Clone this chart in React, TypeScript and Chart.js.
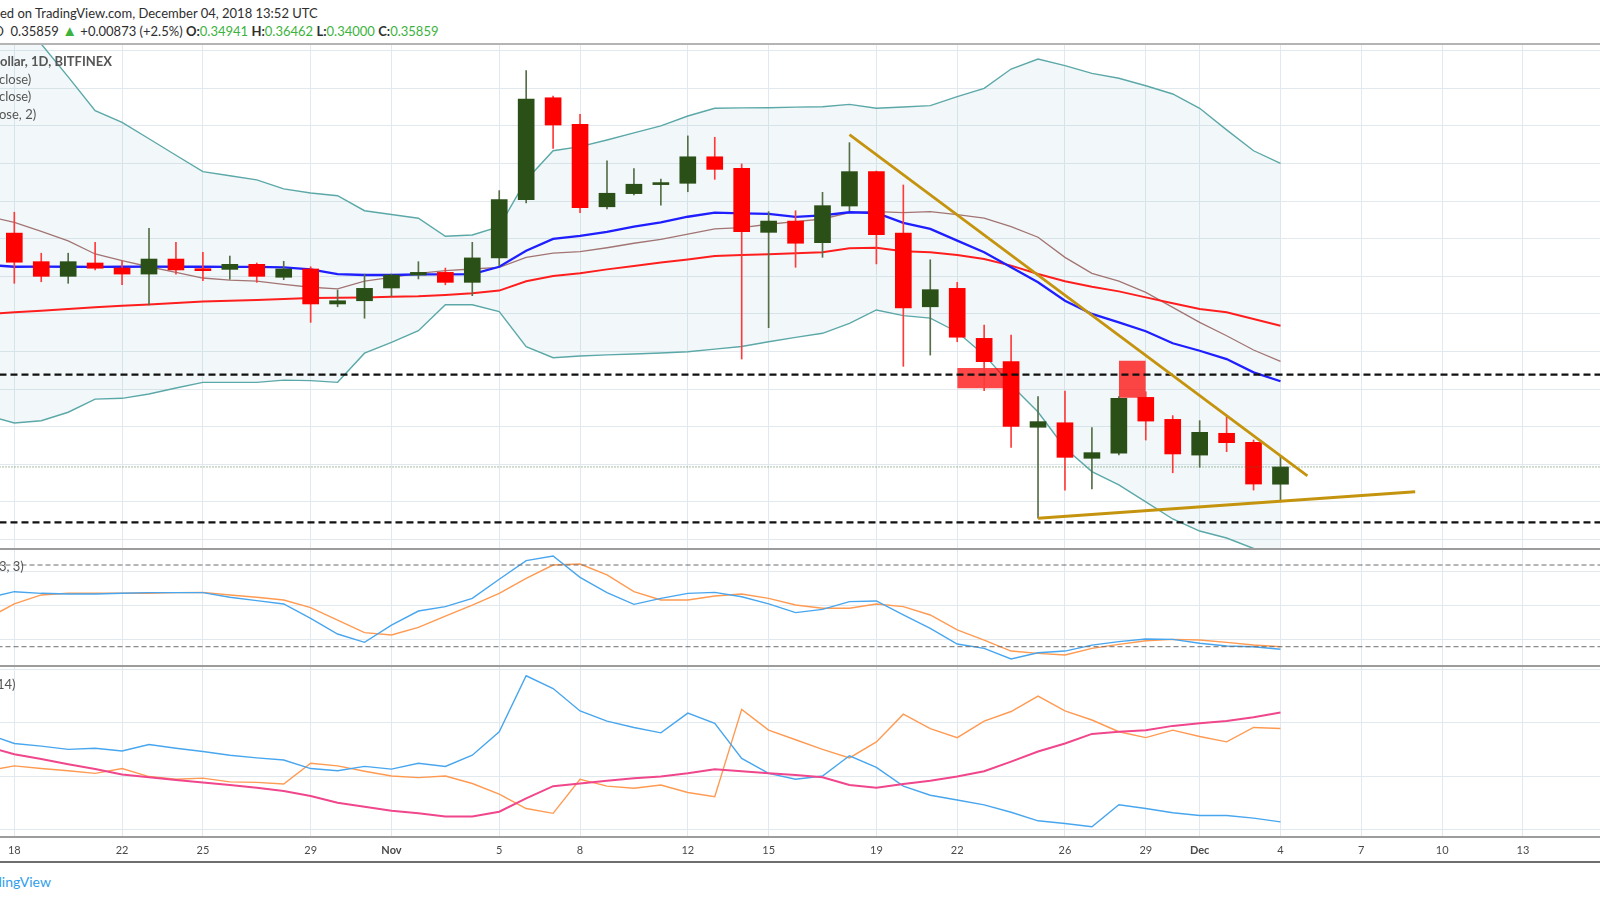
import React, { useEffect, useRef } from 'react';
import { Chart, registerables } from 'chart.js';

Chart.register(...registerables);

// ---------- x axis (day index: 0 = Oct 18, 2018) ----------
const tickDays = [0, 4, 7, 11, 14, 18, 21, 25, 28, 32, 35, 39, 42, 44, 47, 50, 53, 56];
const tickLabels = ['18', '22', '25', '29', 'Nov', '5', '8', '12', '15', '19', '22', '26', '29', 'Dec', '4', '7', '10', '13'];
const X_MIN = -0.531;
const X_MAX = 58.86;

// ---------- candles Oct 18 .. Dec 4 ----------
const candleOpen = [0.4830, 0.4678, 0.4600, 0.4671, 0.4644, 0.4612, 0.4692, 0.4637, 0.4637, 0.4664, 0.4595, 0.4639, 0.4453, 0.4470, 0.4538, 0.4607, 0.4621, 0.4568, 0.4698, 0.5008, 0.5550, 0.5409, 0.4970, 0.5040, 0.5088, 0.5095, 0.5236, 0.5175, 0.4834, 0.4894, 0.4779, 0.4974, 0.5157, 0.4830, 0.4438, 0.4536, 0.4270, 0.4146, 0.3797, 0.3821, 0.3632, 0.3659, 0.3956, 0.3839, 0.3649, 0.3765, 0.3717, 0.34941];
const candleHigh = [0.4941, 0.4723, 0.4723, 0.4781, 0.4683, 0.4856, 0.4781, 0.4728, 0.4708, 0.4671, 0.4680, 0.4651, 0.4527, 0.4612, 0.4612, 0.4678, 0.4644, 0.4781, 0.5056, 0.5694, 0.5559, 0.5462, 0.5214, 0.5173, 0.5118, 0.5347, 0.5340, 0.5198, 0.4944, 0.4949, 0.5047, 0.5311, 0.5160, 0.5086, 0.4688, 0.4568, 0.4341, 0.4288, 0.3960, 0.3990, 0.3795, 0.3960, 0.3986, 0.3859, 0.3832, 0.3853, 0.3729, 0.36462];
const candleLow = [0.4563, 0.4571, 0.4563, 0.4634, 0.4555, 0.4448, 0.4612, 0.4577, 0.4584, 0.4568, 0.4582, 0.4355, 0.4438, 0.4377, 0.4494, 0.4586, 0.4555, 0.4497, 0.4657, 0.4990, 0.5281, 0.4939, 0.4958, 0.5033, 0.4979, 0.5050, 0.5116, 0.4160, 0.4327, 0.4648, 0.4701, 0.4949, 0.4666, 0.4121, 0.4181, 0.4252, 0.3992, 0.3690, 0.3313, 0.3463, 0.3469, 0.3650, 0.3729, 0.3555, 0.3584, 0.3667, 0.3463, 0.34000];
const candleClose = [0.4675, 0.4600, 0.4678, 0.4643, 0.4612, 0.4692, 0.4634, 0.4630, 0.4664, 0.4600, 0.4639, 0.4453, 0.4470, 0.4536, 0.4607, 0.4621, 0.4568, 0.4698, 0.5008, 0.5543, 0.5405, 0.4965, 0.5042, 0.5090, 0.5097, 0.5236, 0.5169, 0.4837, 0.4894, 0.4776, 0.4976, 0.5157, 0.4821, 0.4432, 0.4529, 0.4276, 0.4146, 0.3802, 0.3827, 0.3637, 0.3662, 0.3951, 0.3830, 0.3655, 0.3770, 0.3715, 0.3495, 0.35859];

// ---------- overlays Oct 17 .. Dec 4 ----------
const bbUpper = [0.6177, 0.6012, 0.5836, 0.5661, 0.5481, 0.5419, 0.5332, 0.5244, 0.5157, 0.5135, 0.5113, 0.5065, 0.5043, 0.5029, 0.4949, 0.4929, 0.4909, 0.4813, 0.4820, 0.4864, 0.5113, 0.5268, 0.5290, 0.5325, 0.5363, 0.5400, 0.5453, 0.5494, 0.5496, 0.5497, 0.5500, 0.5502, 0.5515, 0.5494, 0.5501, 0.5508, 0.5556, 0.5600, 0.5703, 0.5756, 0.5721, 0.5680, 0.5654, 0.5614, 0.5570, 0.5494, 0.5379, 0.5268, 0.5201];
const bbLower = [0.3860, 0.3820, 0.3832, 0.3877, 0.3947, 0.3951, 0.3974, 0.4006, 0.4036, 0.4036, 0.4036, 0.4048, 0.4045, 0.4036, 0.4191, 0.4249, 0.4311, 0.4449, 0.4449, 0.4412, 0.4226, 0.4167, 0.4176, 0.4182, 0.4187, 0.4192, 0.4199, 0.4213, 0.4227, 0.4252, 0.4275, 0.4297, 0.4350, 0.4421, 0.4391, 0.4378, 0.4304, 0.4182, 0.4022, 0.3878, 0.3687, 0.3561, 0.3490, 0.3400, 0.3309, 0.3245, 0.3208, 0.3152, 0.3080];
const bbBasis = [0.4920, 0.4887, 0.4839, 0.4789, 0.4719, 0.4683, 0.4651, 0.4621, 0.4591, 0.4580, 0.4574, 0.4557, 0.4542, 0.4533, 0.4574, 0.4595, 0.4616, 0.4630, 0.4639, 0.4648, 0.4701, 0.4723, 0.4731, 0.4752, 0.4776, 0.4797, 0.4825, 0.4852, 0.4859, 0.4877, 0.4891, 0.4905, 0.4939, 0.4944, 0.4939, 0.4944, 0.4928, 0.4910, 0.4864, 0.4808, 0.4701, 0.4616, 0.4574, 0.4515, 0.4435, 0.4355, 0.4284, 0.4208, 0.4148];
const blueMA = [0.4661, 0.4651, 0.4652, 0.4651, 0.4650, 0.4651, 0.4652, 0.4651, 0.4651, 0.4650, 0.4650, 0.4648, 0.4637, 0.4612, 0.4607, 0.4607, 0.4610, 0.4610, 0.4612, 0.4651, 0.4736, 0.4799, 0.4815, 0.4837, 0.4864, 0.4887, 0.4917, 0.4939, 0.4935, 0.4932, 0.4916, 0.4924, 0.4941, 0.4937, 0.4884, 0.4852, 0.4790, 0.4728, 0.4648, 0.4568, 0.4470, 0.4400, 0.4355, 0.4308, 0.4244, 0.4204, 0.4160, 0.4089, 0.4042];
const redMA = [0.4399, 0.4409, 0.4417, 0.4426, 0.4435, 0.4444, 0.4450, 0.4458, 0.4466, 0.4470, 0.4474, 0.4479, 0.4485, 0.4486, 0.4487, 0.4491, 0.4494, 0.4501, 0.4510, 0.4524, 0.4574, 0.4602, 0.4616, 0.4637, 0.4655, 0.4673, 0.4690, 0.4708, 0.4714, 0.4717, 0.4723, 0.4728, 0.4749, 0.4752, 0.4733, 0.4728, 0.4714, 0.4692, 0.4657, 0.4612, 0.4574, 0.4545, 0.4520, 0.4488, 0.4457, 0.4426, 0.4409, 0.4373, 0.4337];

// ---------- drawings ----------
const levelPrices = [0.4077, 0.3291];
const lastPrice = 0.35859;
const trendUpDays = [31, 48];
const trendUpPrices = [0.5354, 0.3538];
const trendLowDays = [38, 52];
const trendLowPrices = [0.3313, 0.3454];
const zoneStart = [35, 41];
const zoneEnd = [36.74, 42.0];
const zoneTop = [0.4112, 0.4151];
const zoneBottom = [0.4005, 0.3954];
const mainGrid = [0.32, 0.34, 0.36, 0.38, 0.40, 0.42, 0.44, 0.46, 0.48, 0.50, 0.52, 0.54, 0.56, 0.58];

// ---------- Stoch RSI ----------
const stochK = [55.8, 60.4, 59.2, 58.7, 58.7, 59.2, 59.7, 59.7, 59.7, 56.3, 53.8, 51.4, 40.8, 29.3, 23.2, 35.9, 46.2, 49.4, 55.5, 69.5, 83.2, 86.6, 70.9, 59.7, 51.1, 55.5, 59.2, 59.9, 56.7, 51.4, 45.0, 47.4, 53.1, 53.6, 43.3, 33.5, 22.0, 18.8, 11.0, 15.6, 16.8, 21.2, 23.7, 25.7, 25.4, 22.5, 20.5, 20.0, 18.1];
const stochD = [40.8, 51.4, 58.0, 59.2, 59.2, 59.2, 59.2, 59.7, 59.9, 58.0, 56.3, 54.3, 48.7, 39.6, 30.3, 28.6, 34.2, 42.5, 50.6, 59.2, 70.2, 80.0, 80.7, 72.7, 60.4, 54.3, 54.3, 57.2, 58.7, 55.5, 50.6, 48.2, 48.2, 51.4, 49.4, 43.3, 32.3, 24.9, 16.8, 15.1, 13.9, 18.8, 21.7, 24.4, 25.4, 24.9, 23.2, 21.2, 20.0];
const stochBands = [80, 20];
const stochGrid = [25, 50, 75];

// ---------- DMI ----------
const diPlus = [27.9, 26.1, 25.6, 25.0, 25.2, 24.7, 25.9, 25.2, 24.6, 23.9, 23.4, 23.0, 21.4, 21.0, 21.8, 21.3, 22.4, 21.8, 23.9, 28.3, 38.8, 36.4, 32.2, 30.3, 29.1, 28.1, 31.8, 29.9, 23.3, 20.5, 19.4, 20.0, 23.8, 21.6, 18.1, 16.4, 15.5, 14.6, 13.2, 11.6, 11.1, 10.5, 14.6, 13.9, 13.1, 12.6, 12.6, 12.1, 11.4];
const diMinus = [21.0, 21.9, 21.4, 21.0, 20.5, 21.4, 19.9, 19.4, 19.6, 18.9, 18.8, 18.5, 22.4, 21.9, 20.9, 20.0, 19.7, 20.0, 18.6, 16.6, 13.9, 13.0, 19.4, 18.1, 17.7, 18.3, 16.9, 16.1, 32.5, 28.6, 26.8, 25.0, 23.4, 26.4, 31.6, 28.9, 27.2, 30.3, 32.1, 35.0, 32.2, 30.5, 28.3, 27.2, 28.6, 27.4, 26.4, 29.1, 28.9];
const adx = [25.5, 24.1, 23.2, 22.2, 21.3, 20.3, 19.75, 19.25, 18.8, 18.3, 17.8, 17.2, 16.25, 15.0, 14.25, 13.5, 13.0, 12.4, 12.4, 13.3, 15.8, 18.1, 18.6, 19.1, 19.6, 19.9, 20.5, 21.25, 20.9, 20.5, 20.2, 19.75, 18.3, 17.8, 18.5, 19.1, 19.9, 20.9, 22.7, 24.6, 26.1, 27.9, 28.3, 28.6, 29.4, 29.9, 30.3, 31.0, 31.9];
const dmiGrid = [10, 20, 30, 40];

// ---------- helpers ----------
const lineDays = bbUpper.map((_, k) => k - 1);
const candleDays = candleOpen.map((_, k) => k);
const pts = (vals: number[]) => vals.map((v, k) => ({ x: lineDays[k], y: v }));
const seg = (xs: number[], ys: number[]) => xs.map((x, k) => ({ x, y: ys[k] }));
const hline = (y: number) => [{ x: -3, y }, { x: 62, y }];

const GRID = '#e2e9ee';
const UP = '#2a4f17';
const DOWN = '#ff0000';
const UP_WICK = '#566f48';
const DOWN_WICK = '#ff3a3a';
const FONT = 'Lato, "Open Sans", sans-serif';

function xScale(showLabels: boolean) {
  return {
    type: 'linear',
    min: X_MIN,
    max: X_MAX,
    offset: false,
    afterBuildTicks: (axis: any) => {
      axis.ticks = tickDays.map((v) => ({ value: v }));
    },
    afterFit: (axis: any) => {
      axis.height = showLabels ? 25.3 : 0;
    },
    grid: { color: GRID, lineWidth: 1, drawTicks: false, offset: false },
    border: { display: false },
    ticks: {
      display: showLabels,
      autoSkip: false,
      maxRotation: 0,
      minRotation: 0,
      padding: 7,
      color: '#4a4a4a',
      font: (ctx: any) => {
        const k = tickDays.indexOf(ctx.tick ? ctx.tick.value : -99);
        const lab = k >= 0 ? tickLabels[k] : '';
        return { family: FONT, size: 11, weight: isNaN(Number(lab)) ? 'bold' : 'normal' };
      },
      callback: (value: any) => {
        const k = tickDays.indexOf(value);
        return k >= 0 ? tickLabels[k] : '';
      },
    },
  };
}

function yScale(min: number, max: number, grid: number[]) {
  return {
    type: 'linear',
    min,
    max,
    afterBuildTicks: (axis: any) => {
      axis.ticks = grid.map((v) => ({ value: v }));
    },
    afterFit: (axis: any) => {
      axis.width = 0;
    },
    grid: { color: GRID, lineWidth: 1, drawTicks: false },
    border: { display: false },
    ticks: { display: false },
  };
}

function makeChart(canvas: HTMLCanvasElement, datasets: any[], y: any, showLabels: boolean) {
  return new Chart(canvas, {
    type: 'line',
    data: { datasets },
    options: {
      animation: false,
      responsive: false,
      devicePixelRatio: 1,
      events: [],
      layout: { padding: 0 },
      elements: { point: { radius: 0 }, line: { tension: 0 } },
      plugins: { legend: { display: false }, tooltip: { enabled: false } },
      scales: { x: xScale(showLabels), y } as any,
    },
  } as any);
}

const lineDs = (data: any[], color: string, width: number, order: number, extra: any = {}) => ({
  type: 'line',
  data,
  borderColor: color,
  borderWidth: width,
  pointRadius: 0,
  fill: false,
  order,
  ...extra,
});

export default function App() {
  const mainRef = useRef<HTMLCanvasElement>(null);
  const stochRef = useRef<HTMLCanvasElement>(null);
  const dmiRef = useRef<HTMLCanvasElement>(null);

  useEffect(() => {
    document.body.style.margin = '0';
    document.body.style.background = '#ffffff';

    const bodyColors = candleClose.map((c, k) => (c >= candleOpen[k] ? UP : DOWN));
    const wickColors = candleClose.map((c, k) => (c >= candleOpen[k] ? UP_WICK : DOWN_WICK));

    const mainDatasets: any[] = [
      lineDs(pts(bbUpper), '#5ca8a8', 1.4, 30, { fill: '+1', backgroundColor: 'rgba(40,140,150,0.06)' }),
      lineDs(pts(bbLower), '#5ca8a8', 1.4, 29),
      lineDs(pts(bbBasis), '#a37474', 1.3, 28),
      lineDs(pts(redMA), '#ff1e1e', 2, 27),
      lineDs(pts(blueMA), '#1e1eff', 2.3, 26),
      lineDs(seg([zoneStart[0], zoneEnd[0]], [zoneTop[0], zoneTop[0]]), 'rgba(0,0,0,0)', 0, 25, { fill: '+1', backgroundColor: 'rgba(255,0,0,0.72)' }),
      lineDs(seg([zoneStart[0], zoneEnd[0]], [zoneBottom[0], zoneBottom[0]]), 'rgba(0,0,0,0)', 0, 25),
      lineDs(seg([zoneStart[1], zoneEnd[1]], [zoneTop[1], zoneTop[1]]), 'rgba(0,0,0,0)', 0, 25, { fill: '+1', backgroundColor: 'rgba(255,0,0,0.72)' }),
      lineDs(seg([zoneStart[1], zoneEnd[1]], [zoneBottom[1], zoneBottom[1]]), 'rgba(0,0,0,0)', 0, 25),
      {
        type: 'bar',
        data: candleDays.map((d, k) => ({ x: d, y: [candleLow[k], candleHigh[k]] })),
        backgroundColor: wickColors,
        barThickness: 1,
        grouped: false,
        order: 12,
      },
      {
        type: 'bar',
        data: candleDays.map((d, k) => ({ x: d, y: [candleOpen[k], candleClose[k]] })),
        backgroundColor: bodyColors,
        barThickness: 16,
        minBarLength: 2,
        grouped: false,
        order: 11,
      },
      lineDs(hline(lastPrice), 'rgba(60,115,60,0.9)', 1, 6, { borderDash: [1, 2] }),
      lineDs(hline(levelPrices[0]), '#111111', 2.4, 3, { borderDash: [7, 4] }),
      lineDs(hline(levelPrices[1]), '#111111', 2.4, 3, { borderDash: [7, 4] }),
      lineDs(seg(trendUpDays, trendUpPrices), '#c5940f', 2.8, 1),
      lineDs(seg(trendLowDays, trendLowPrices), '#c5940f', 2.8, 1),
    ];

    const stochDatasets: any[] = [
      lineDs(pts(stochD), '#ff9a52', 1.4, 5),
      lineDs(pts(stochK), '#48a6ee', 1.4, 4),
      lineDs(hline(stochBands[0]), '#6e6e6e', 1, 1, { borderDash: [5, 3] }),
      lineDs(hline(stochBands[1]), '#6e6e6e', 1, 1, { borderDash: [5, 3] }),
    ];

    const dmiDatasets: any[] = [
      lineDs(pts(diMinus), '#ff9a52', 1.4, 5),
      lineDs(pts(diPlus), '#48a6ee', 1.4, 4),
      lineDs(pts(adx), '#f0468c', 2, 3),
    ];

    const charts: Chart[] = [];
    if (mainRef.current) charts.push(makeChart(mainRef.current, mainDatasets, yScale(0.31494, 0.5836, mainGrid), false));
    if (stochRef.current) charts.push(makeChart(stochRef.current, stochDatasets, yScale(5.83, 91.75, stochGrid), false));
    if (dmiRef.current) charts.push(makeChart(dmiRef.current, dmiDatasets, yScale(8.62, 40.63, dmiGrid), true));
    return () => charts.forEach((c) => c.destroy());
  }, []);

  const abs = (extra: any) => ({ position: 'absolute' as const, whiteSpace: 'nowrap' as const, ...extra });
  const sep = (top: number, color: string, h = 2) => (
    <div style={abs({ left: 0, top, width: 1600, height: h, background: color })} />
  );
  const green = { color: '#3cb33c' };

  return (
    <div style={{ position: 'relative', width: 1600, height: 900, overflow: 'hidden', background: '#fff', fontFamily: FONT }}>
      <canvas ref={mainRef} width={1600} height={505} style={abs({ left: 0, top: 44, display: 'block' })} />
      <canvas ref={stochRef} width={1600} height={117} style={abs({ left: 0, top: 549, display: 'block' })} />
      <canvas ref={dmiRef} width={1600} height={196} style={abs({ left: 0, top: 666, display: 'block' })} />

      {sep(43, '#b4b4b4')}
      {sep(548, '#9c9c9c')}
      {sep(665, '#9c9c9c')}
      {sep(836, '#9c9c9c')}
      {sep(861, '#6e6e6e', 1.5)}

      <div style={abs({ left: 0, top: 4, fontSize: 13, color: '#2e2e2e', lineHeight: '18px' })}>
        ed on TradingView.com, December 04, 2018 13:52 UTC
      </div>
      <div style={abs({ left: -6, top: 21, fontSize: 13, color: '#2e2e2e', lineHeight: '18px' })}>
        D&nbsp;&nbsp;0.35859 <span style={{ ...green, fontSize: 15 }}>▲</span> +0.00873 (+2.5%) <b>O:</b>
        <span style={green}>0.34941</span> <b>H:</b>
        <span style={green}>0.36462</span> <b>L:</b>
        <span style={green}>0.34000</span> <b>C:</b>
        <span style={green}>0.35859</span>
      </div>

      <div style={abs({ left: 0, top: 52, fontSize: 13, color: '#555', fontWeight: 'bold', lineHeight: '18px' })}>ollar, 1D, BITFINEX</div>
      <div style={abs({ left: -1, top: 70, fontSize: 13, color: '#555', lineHeight: '18px' })}>close)</div>
      <div style={abs({ left: -1, top: 87, fontSize: 13, color: '#555', lineHeight: '18px' })}>close)</div>
      <div style={abs({ left: -1, top: 105, fontSize: 13, color: '#555', lineHeight: '18px' })}>ose, 2)</div>

      <div style={abs({ left: -1, top: 557, fontSize: 13, color: '#555', lineHeight: '18px' })}>3, 3)</div>
      <div style={abs({ left: -3, top: 675, fontSize: 13, color: '#555', lineHeight: '18px' })}>14)</div>

      <div style={abs({ left: -6, top: 873, fontSize: 14, color: '#2f9ee8', lineHeight: '18px' })}>dingView</div>
    </div>
  );
}
